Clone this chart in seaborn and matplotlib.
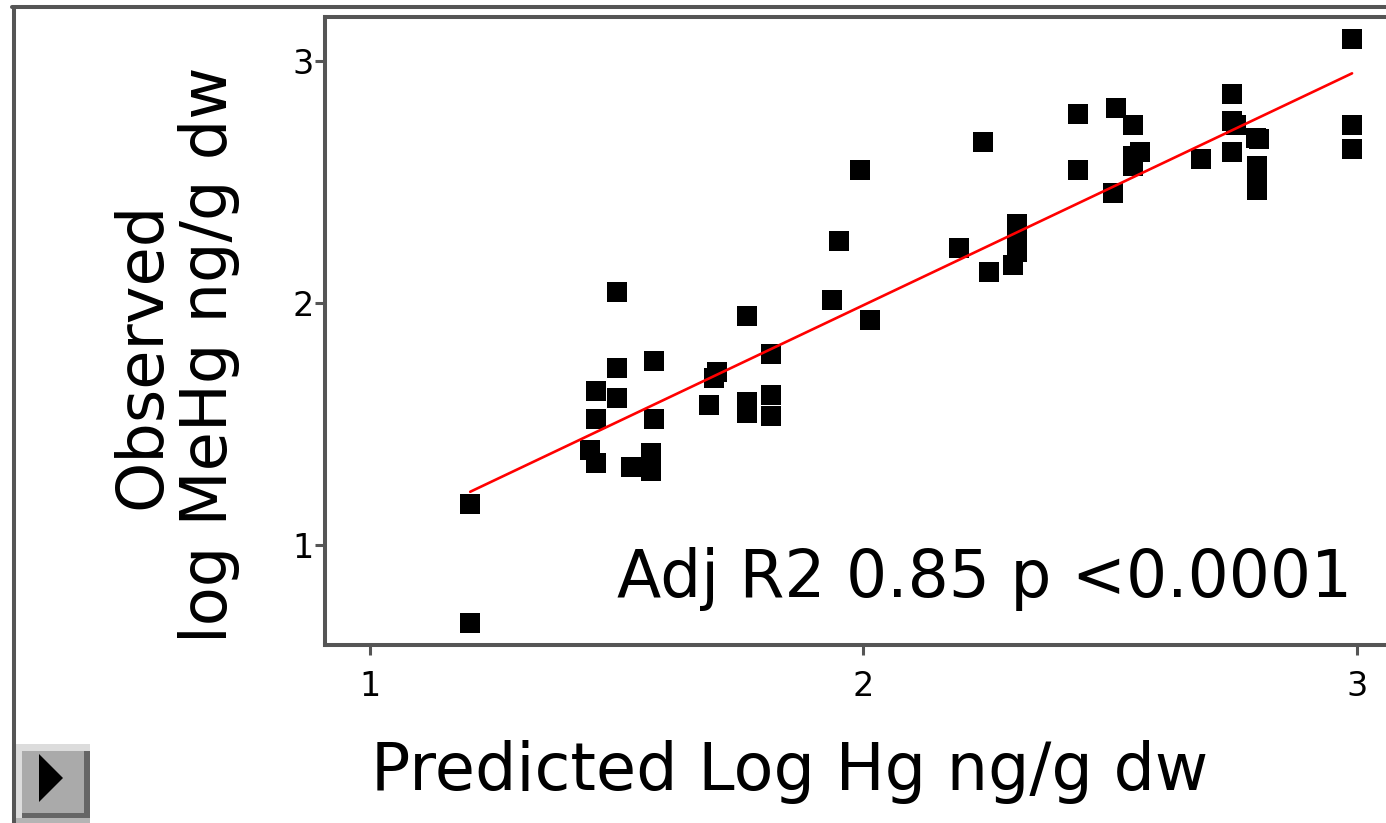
import numpy as np
import pandas as pd
import matplotlib.pyplot as plt
import seaborn as sns
from matplotlib.patches import Rectangle, Polygon
from matplotlib.lines import Line2D

sns.set_style("ticks")
plt.rcParams["font.family"] = ["DejaVu Sans"]
plt.rcParams["text.color"] = "black"

pred = [1.203, 1.203, 1.501, 1.501, 1.575, 1.458, 1.501, 1.458, 1.575, 1.446,
        1.458, 1.529, 1.569, 1.569, 1.703, 1.697, 1.687, 1.764, 1.764, 1.764,
        1.813, 1.813, 1.813, 1.936, 1.950, 1.993, 2.013, 2.194, 2.242, 2.254,
        2.311, 2.311, 2.311, 2.303, 2.435, 2.435, 2.506, 2.512, 2.546, 2.560,
        2.546, 2.546, 2.684, 2.747, 2.747, 2.755, 2.795, 2.801, 2.747, 2.797,
        2.797, 2.797, 2.990, 2.990, 2.990]
obs = [1.169, 0.678, 2.045, 1.731, 1.760, 1.636, 1.607, 1.521, 1.521, 1.393,
       1.339, 1.322, 1.380, 1.306, 1.715, 1.690, 1.579, 1.946, 1.591, 1.545,
       1.789, 1.620, 1.533, 2.012, 2.256, 2.550, 1.930, 2.227, 2.665, 2.128,
       2.326, 2.244, 2.211, 2.157, 2.781, 2.550, 2.455, 2.806, 2.736, 2.624,
       2.607, 2.566, 2.595, 2.864, 2.752, 2.736, 2.682, 2.678, 2.624, 2.566,
       2.517, 2.467, 3.091, 2.736, 2.636]
ticks = [1, 2, 3]

df = pd.DataFrame({"pred": pred, "obs": obs})

W, H = 1386, 823
fx = lambda px: px / W
fy = lambda py: 1 - py / H
gray = "#555555"

fig = plt.figure(figsize=(W / 100, H / 100), dpi=100)
ax = fig.add_axes([fx(325), fy(645), fx(1386) - fx(325), fy(17) - fy(645)])

sns.scatterplot(data=df, x="pred", y="obs", marker="s", color="black",
                s=215, linewidth=0, ax=ax, zorder=3)
sns.regplot(data=df, x="pred", y="obs", scatter=False, ci=None, color="red",
            line_kws={"lw": 1.9, "zorder": 4}, ax=ax)

ax.set_xlim(0.9088, 3.0588)
ax.set_ylim(0.5868, 3.1818)
ax.set_xticks(ticks)
ax.set_yticks(ticks)
ax.set_xticklabels([str(t) for t in ticks])
ax.set_yticklabels([str(t) for t in ticks])
ax.set_xlabel("")
ax.set_ylabel("")

for side in ["left", "bottom", "top"]:
    ax.spines[side].set_color(gray)
    ax.spines[side].set_linewidth(2.9)
ax.spines["right"].set_visible(False)

ax.tick_params(axis="both", direction="out", length=7, width=2.2, color=gray,
               labelsize=24, labelcolor="black")
ax.tick_params(axis="x", pad=11)
ax.tick_params(axis="y", pad=1)

# axis titles
fig.text(fx(790), fy(790), "Predicted Log Hg ng/g dw", ha="center",
         va="baseline", fontsize=47, color="black")
fig.text(fx(176), fy(355), "Observed\nlog MeHg ng/g dw", ha="center",
         va="center", rotation=90, multialignment="center", fontsize=46,
         linespacing=1.1, color="black")

fig.text(fx(1352), fy(597), "Adj R2 0.85 p <0.0001", ha="right",
         va="baseline", fontsize=46.5, color="black")

# outer frame
fig.add_artist(Line2D([fx(14), fx(14)], [0, fy(7)], transform=fig.transFigure,
                      color=gray, lw=2.9))
fig.add_artist(Line2D([fx(12), 1], [fy(7), fy(7)], transform=fig.transFigure,
                      color=gray, lw=2.9))

# little play button bottom left
def rect(x0, y0, x1, y1, c):
    fig.add_artist(Rectangle((fx(x0), fy(y1)), fx(x1) - fx(x0), fy(y0) - fy(y1),
                             transform=fig.transFigure, color=c, lw=0))

rect(16, 744, 90, 823, "#b4b4b4")
rect(16, 744, 90, 818, "#dcdcdc")
rect(22, 751, 90, 818, "#666666")
rect(22, 751, 84, 813, "#aaaaaa")
fig.add_artist(Polygon([(fx(39), fy(754)), (fx(39), fy(802)), (fx(63), fy(778))],
                       closed=True, transform=fig.transFigure, color="black", lw=0))

plt.savefig("out.png", dpi=100)
